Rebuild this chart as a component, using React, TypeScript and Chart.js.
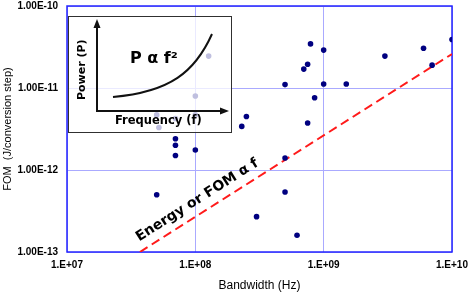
import { useEffect, useRef } from "react";
import { Chart, registerables } from "chart.js";

Chart.register(...registerables);

// Bandwidth (Hz) and FOM (J/conversion step) of each published converter
const bandwidthHz = [
  7.9e8, 1.0e9, 7.5e8, 7.0e8, 5.0e8, 1.0e9, 1.5e9, 8.5e8, 3.0e9, 6.0e9,
  7.0e9, 1.0e10, 2.5e8, 2.3e8, 7.5e8, 5.0e8, 5.0e8, 3.0e8, 6.2e8, 7.0e7,
  7.0e7, 7.0e7, 1.0e8, 5.0e7, 1.27e8, 1.0e8, 5.0e7, 5.2e7, 7.0e7, 1.0e8,
];
const fomJ = [
  3.45e-11, 2.9e-11, 1.95e-11, 1.7e-11, 1.1e-11, 1.12e-11, 1.12e-11, 7.6e-12, 2.45e-11, 3.05e-11,
  1.9e-11, 3.9e-11, 4.5e-12, 3.4e-12, 3.75e-12, 1.4e-12, 5.4e-13, 2.7e-13, 1.6e-13, 2.4e-12,
  2.0e-12, 1.5e-12, 1.75e-12, 5.0e-13, 2.45e-11, 8.0e-12, 4.7e-12, 3.3e-12, 4.25e-12, 4.7e-12,
];

// Energy or FOM ∝ f trend line
const trendX = [3.7e7, 1.0e10];
const trendY = [1.0e-13, 2.6e-11];

const xTickValues = [1e7, 1e8, 1e9, 1e10];
const xTickLabels = ["1.E+07", "1.E+08", "1.E+09", "1.E+10"];
const yTickValues = [1e-13, 1e-12, 1e-11, 1e-10];
const yTickLabels = ["1.00E-13", "1.00E-12", "1.00E-11", "1.00E-10"];

const xTitle = "Bandwidth (Hz)";
const yTitle = "FOM  (J/conversion step)";
const trendLabel = "Energy or FOM \u03B1 f";
const insetFormula = "P \u03B1 f\u00B2";
const insetXLabel = "Frequency (f)";
const insetYLabel = "Power (P)";

const ARIAL = "'Liberation Sans', Arial, sans-serif";
const VERDANA = "'DejaVu Sans', Verdana, sans-serif";

const framePlugin = {
  id: "frame",
  beforeDatasetsDraw(chart: any) {
    const { ctx, chartArea: a } = chart;
    ctx.save();
    ctx.strokeStyle = "#2424ff";
    ctx.lineWidth = 1.5;
    ctx.strokeRect(a.left, a.top, a.right - a.left, a.bottom - a.top);
    ctx.restore();
  },
};

function arrow(ctx: CanvasRenderingContext2D, x0: number, y0: number, x1: number, y1: number) {
  const ang = Math.atan2(y1 - y0, x1 - x0);
  const len = 9;
  const half = 3.5;
  ctx.beginPath();
  ctx.moveTo(x0, y0);
  ctx.lineTo(x1 - Math.cos(ang) * (len - 1), y1 - Math.sin(ang) * (len - 1));
  ctx.stroke();
  ctx.beginPath();
  ctx.moveTo(x1, y1);
  ctx.lineTo(x1 - Math.cos(ang) * len - Math.sin(ang) * half, y1 - Math.sin(ang) * len + Math.cos(ang) * half);
  ctx.lineTo(x1 - Math.cos(ang) * len + Math.sin(ang) * half, y1 - Math.sin(ang) * len - Math.cos(ang) * half);
  ctx.closePath();
  ctx.fill();
}

const overlayPlugin = {
  id: "overlay",
  afterDatasetsDraw(chart: any) {
    const { ctx, chartArea: a, scales } = chart;
    const xs = scales.x;
    const ys = scales.y;

    // inset schematic
    const ix = a.left + 1;
    const iy = a.top + 10;
    const iw = 164;
    const ih = 117;
    ctx.save();
    ctx.fillStyle = "rgba(255,255,255,0.75)";
    ctx.fillRect(ix, iy, iw, ih);
    ctx.strokeStyle = "#303030";
    ctx.lineWidth = 1;
    ctx.strokeRect(ix + 0.5, iy + 0.5, iw - 1, ih - 1);

    ctx.strokeStyle = "#111111";
    ctx.fillStyle = "#111111";
    ctx.lineWidth = 2;
    arrow(ctx, ix + 29, iy + 95, ix + 29, iy + 3);
    arrow(ctx, ix + 28, iy + 95, ix + 161, iy + 95);

    ctx.beginPath();
    ctx.moveTo(ix + 45, iy + 81);
    ctx.bezierCurveTo(ix + 102, iy + 76, ix + 127, iy + 56, ix + 144, iy + 18);
    ctx.stroke();

    ctx.fillStyle = "#000000";
    ctx.textAlign = "left";
    ctx.textBaseline = "alphabetic";
    ctx.font = `bold 16px ${VERDANA}`;
    ctx.fillText(insetFormula, ix + 62, iy + 47);
    ctx.font = `bold 11.5px ${VERDANA}`;
    ctx.fillText(insetXLabel, ix + 47, iy + 108);
    ctx.save();
    ctx.translate(ix + 17, iy + 84);
    ctx.rotate(-Math.PI / 2);
    ctx.font = `bold 11px ${VERDANA}`;
    ctx.fillText(insetYLabel, 0, 0);
    ctx.restore();

    // trend line label
    const p0x = xs.getPixelForValue(trendX[0]);
    const p0y = ys.getPixelForValue(trendY[0]);
    const p1x = xs.getPixelForValue(trendX[1]);
    const p1y = ys.getPixelForValue(trendY[1]);
    const ang = Math.atan2(p1y - p0y, p1x - p0x);
    const dx = Math.cos(ang);
    const dy = Math.sin(ang);
    const sx = p0x + 5 * dx + 9.3 * dy;
    const sy = p0y + 5 * dy - 9.3 * dx;
    ctx.translate(sx, sy);
    ctx.rotate(ang);
    ctx.font = `bold 14px ${VERDANA}`;
    ctx.fillStyle = "#000000";
    ctx.fillText(trendLabel, 0, 0);
    ctx.restore();
  },
};

export default function App() {
  const canvasRef = useRef<HTMLCanvasElement | null>(null);

  useEffect(() => {
    const canvas = canvasRef.current;
    if (!canvas) return;
    const points = bandwidthHz.map((x, i) => ({ x, y: fomJ[i] }));
    const trend = trendX.map((x, i) => ({ x, y: trendY[i] }));

    const chart = new Chart(canvas, {
      type: "scatter",
      data: {
        datasets: [
          {
            data: points,
            backgroundColor: "#000080",
            borderColor: "#000080",
            borderWidth: 0,
            pointRadius: 2.8,
          },
          {
            type: "line",
            data: trend,
            borderColor: "#ff1a1a",
            borderWidth: 2,
            borderDash: [9, 5],
            pointRadius: 0,
            fill: false,
          } as any,
        ],
      },
      options: {
        responsive: false,
        animation: false,
        devicePixelRatio: 1,
        layout: { padding: { top: 6, right: 19, left: 0, bottom: 0 } },
        plugins: {
          legend: { display: false },
          tooltip: { enabled: false },
        },
        scales: {
          x: {
            type: "logarithmic",
            min: 1e7,
            max: 1e10,
            afterBuildTicks: (s: any) => {
              s.ticks = xTickValues.map((v) => ({ value: v }));
            },
            afterFit: (s: any) => {
              s.height = 41;
              s.paddingLeft = 0;
              s.paddingRight = 0;
            },
            ticks: {
              autoSkip: false,
              maxRotation: 0,
              padding: 7,
              color: "#000000",
              font: { family: ARIAL, size: 10, weight: "bold" },
              callback: (v: any) => xTickLabels[xTickValues.indexOf(Number(v))] ?? "",
            },
            grid: { color: "#aaaaff", lineWidth: 1, drawTicks: false },
            border: { display: false },
            title: {
              display: true,
              text: xTitle,
              color: "#000000",
              font: { family: ARIAL, size: 12 },
              padding: { top: 0, bottom: 0 },
            },
          },
          y: {
            type: "logarithmic",
            min: 1e-13,
            max: 1e-10,
            afterBuildTicks: (s: any) => {
              s.ticks = yTickValues.map((v) => ({ value: v }));
            },
            afterFit: (s: any) => {
              s.width = 67;
              s.paddingTop = 0;
              s.paddingBottom = 0;
            },
            ticks: {
              autoSkip: false,
              padding: 9,
              color: "#000000",
              font: { family: ARIAL, size: 10, weight: "bold" },
              callback: (v: any) => {
                const i = yTickValues.findIndex((t) => Math.abs(t - Number(v)) / t < 1e-6);
                return i >= 0 ? yTickLabels[i] : "";
              },
            },
            grid: { color: "#aaaaff", lineWidth: 1, drawTicks: false },
            border: { display: false },
            title: {
              display: true,
              text: yTitle,
              color: "#000000",
              font: { family: ARIAL, size: 11 },
              padding: { top: 1, bottom: 0 },
            },
          },
        },
      } as any,
      plugins: [framePlugin, overlayPlugin],
    });
    return () => chart.destroy();
  }, []);

  return (
    <div style={{ position: "absolute", left: 0, top: 0, width: 471, height: 293, background: "#ffffff" }}>
      <canvas ref={canvasRef} width={471} height={293} style={{ width: 471, height: 293, display: "block" }} />
    </div>
  );
}
